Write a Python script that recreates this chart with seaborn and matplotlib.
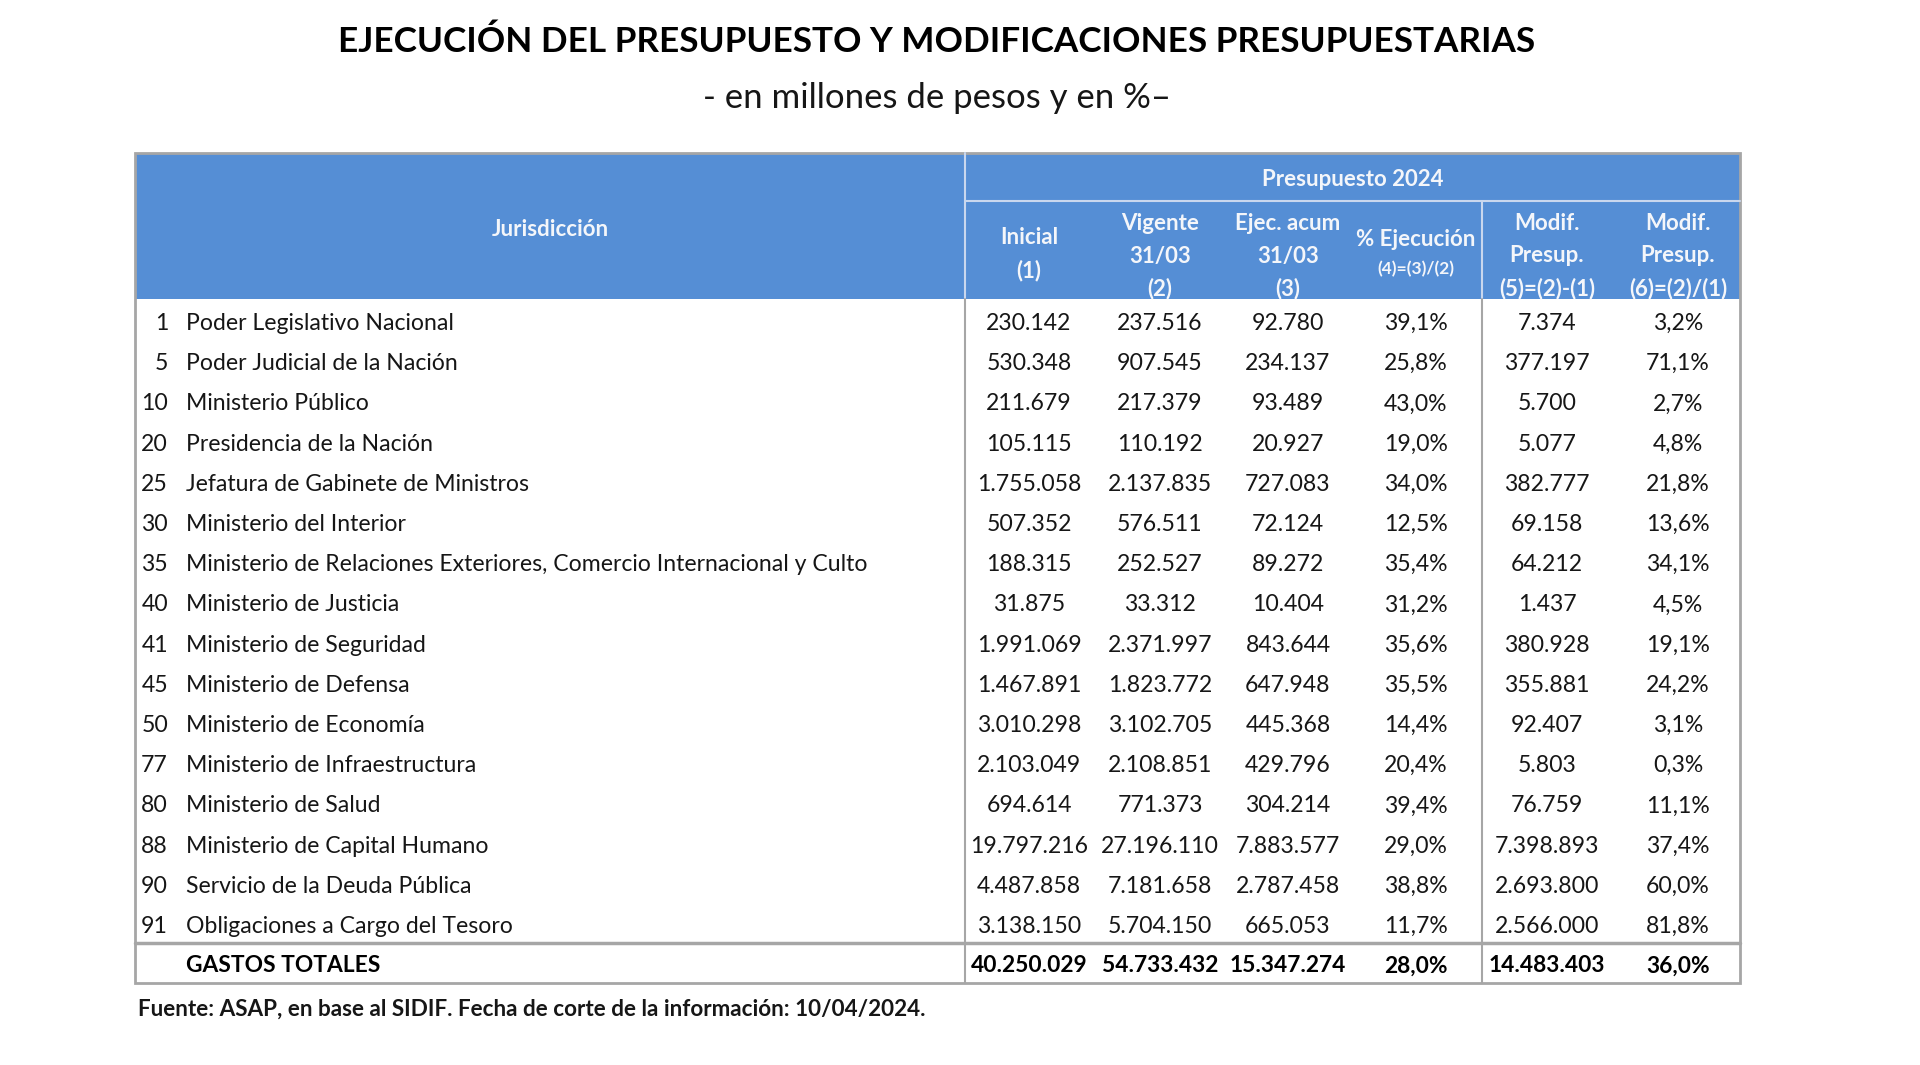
import matplotlib.pyplot as plt
import seaborn as sns
from matplotlib.patches import Rectangle

# Datos de la tabla (millones de pesos)
codigos = [1, 5, 10, 20, 25, 30, 35, 40, 41, 45, 50, 77, 80, 88, 90, 91]
jurisdicciones = [
    "Poder Legislativo Nacional",
    "Poder Judicial de la Nación",
    "Ministerio Público",
    "Presidencia de la Nación",
    "Jefatura de Gabinete de Ministros",
    "Ministerio del Interior",
    "Ministerio de Relaciones Exteriores, Comercio Internacional y Culto",
    "Ministerio de Justicia",
    "Ministerio de Seguridad",
    "Ministerio de Defensa",
    "Ministerio de Economía",
    "Ministerio de Infraestructura",
    "Ministerio de Salud",
    "Ministerio de Capital Humano",
    "Servicio de la Deuda Pública",
    "Obligaciones a Cargo del Tesoro",
]
inicial = [230142, 530348, 211679, 105115, 1755058, 507352, 188315, 31875,
           1991069, 1467891, 3010298, 2103049, 694614, 19797216, 4487858, 3138150]
vigente = [237516, 907545, 217379, 110192, 2137835, 576511, 252527, 33312,
           2371997, 1823772, 3102705, 2108851, 771373, 27196110, 7181658, 5704150]
ejecutado = [92780, 234137, 93489, 20927, 727083, 72124, 89272, 10404,
             843644, 647948, 445368, 429796, 304214, 7883577, 2787458, 665053]
pct_ejecucion = [39.1, 25.8, 43.0, 19.0, 34.0, 12.5, 35.4, 31.2,
                 35.6, 35.5, 14.4, 20.4, 39.4, 29.0, 38.8, 11.7]
modif_abs = [7374, 377197, 5700, 5077, 382777, 69158, 64212, 1437,
             380928, 355881, 92407, 5803, 76759, 7398893, 2693800, 2566000]
modif_pct = [3.2, 71.1, 2.7, 4.8, 21.8, 13.6, 34.1, 4.5,
             19.1, 24.2, 3.1, 0.3, 11.1, 37.4, 60.0, 81.8]

total_label = "GASTOS TOTALES"
totales = [40250029, 54733432, 15347274]
total_pct_ejec = 28.0
total_modif_abs = 14483403
total_modif_pct = 36.0

titulo = "EJECUCIÓN DEL PRESUPUESTO Y MODIFICACIONES PRESUPUESTARIAS"
subtitulo = "- en millones de pesos y en %–"
fuente = "Fuente: ASAP, en base al SIDIF. Fecha de corte de la información: 10/04/2024."


def miles(v):
    return f"{v:,}".replace(",", ".")


def pct(v):
    return f"{v:.1f}".replace(".", ",") + "%"


sns.set_theme(style="white")
plt.rcParams["font.family"] = ["Lato", "DejaVu Sans"]

AZUL = "#558ED5"
GRIS = "#A6A6A6"
TXT = "#161616"

fig = plt.figure(figsize=(19.2, 10.65), dpi=100)
ax = fig.add_axes([0, 0, 1, 1])
ax.set_xlim(0, 1920)
ax.set_ylim(1065, 0)
ax.axis("off")

# geometria
izq, der = 135, 1740
top, sub, hdr_bot = 153, 201, 299
div1, div2 = 965, 1482
fila0, paso = 323.5, 40.2
col_x = [1029, 1160, 1288, 1416, 1547, 1678]
y_total_line, y_total, bot = 943, 966, 983

# titulos
ax.text(937, 42, titulo, ha="center", va="center", fontsize=25.3, fontweight="bold", color="black")
ax.text(937, 98, subtitulo, ha="center", va="center", fontsize=25, color=TXT)

# encabezado
ax.add_patch(Rectangle((izq, top), der - izq, hdr_bot - top, facecolor=AZUL, edgecolor="none"))
claro = "#C9D7EE"
ax.plot([div1, der], [sub, sub], color=claro, lw=1.5)
ax.plot([div1, div1], [top, hdr_bot], color=claro, lw=1.5)
ax.plot([div2, div2], [sub, hdr_bot], color=claro, lw=1.5)

hcol = "#F4F6FA"
hkw = dict(ha="center", va="center", color=hcol, fontweight="bold", fontsize=16)
ax.text((izq + div1) / 2, 229, "Jurisdicción", **hkw)
ax.text((div1 + der) / 2, 179.5, "Presupuesto 2024", **hkw)
ax.text(col_x[0], 238, "Inicial", **hkw)
ax.text(col_x[0], 271, "(1)", **hkw)
for x, lineas in [(col_x[1], ["Vigente", "31/03", "(2)"]),
                  (col_x[2], ["Ejec. acum", "31/03", "(3)"]),
                  (col_x[4], ["Modif.", "Presup.", "(5)=(2)-(1)"]),
                  (col_x[5], ["Modif.", "Presup.", "(6)=(2)/(1)"])]:
    for k, t in enumerate(lineas):
        ax.text(x, 223 + k * 33, t, **hkw)
ax.text(col_x[3], 239, "% Ejecución", **hkw)
ax.text(col_x[3], 269, "(4)=(3)/(2)", ha="center", va="center", color=hcol,
        fontweight="bold", fontsize=12.5)

# cuerpo
kw = dict(va="center", color=TXT, fontsize=16.6)
for i, (cod, nom) in enumerate(zip(codigos, jurisdicciones)):
    y = fila0 + i * paso
    ax.text(168, y, str(cod), ha="right", **kw)
    ax.text(186, y, nom, ha="left", **kw)
    vals = [miles(inicial[i]), miles(vigente[i]), miles(ejecutado[i]),
            pct(pct_ejecucion[i]), miles(modif_abs[i]), pct(modif_pct[i])]
    for x, v in zip(col_x, vals):
        ax.text(x, y, v, ha="center", **kw)

# total
bkw = dict(va="center", color="black", fontsize=16.4, fontweight="bold")
ax.text(186, y_total, total_label, ha="left", **bkw)
vals_tot = [miles(totales[0]), miles(totales[1]), miles(totales[2]),
            pct(total_pct_ejec), miles(total_modif_abs), pct(total_modif_pct)]
for x, v in zip(col_x, vals_tot):
    ax.text(x, y_total, v, ha="center", **bkw)

# lineas de la tabla
ax.plot([div1, div1], [hdr_bot, bot], color=GRIS, lw=1.5)
ax.plot([div2, div2], [hdr_bot, bot], color=GRIS, lw=1.5)
ax.plot([izq, der], [y_total_line, y_total_line], color=GRIS, lw=2.5)
ax.add_patch(Rectangle((izq, top), der - izq, bot - top, facecolor="none", edgecolor=GRIS, lw=2))

ax.text(138, 1009, fuente, ha="left", va="center", fontsize=16.2, fontweight="bold", color=TXT)

fig.savefig("out.png", dpi=100, facecolor="white")
